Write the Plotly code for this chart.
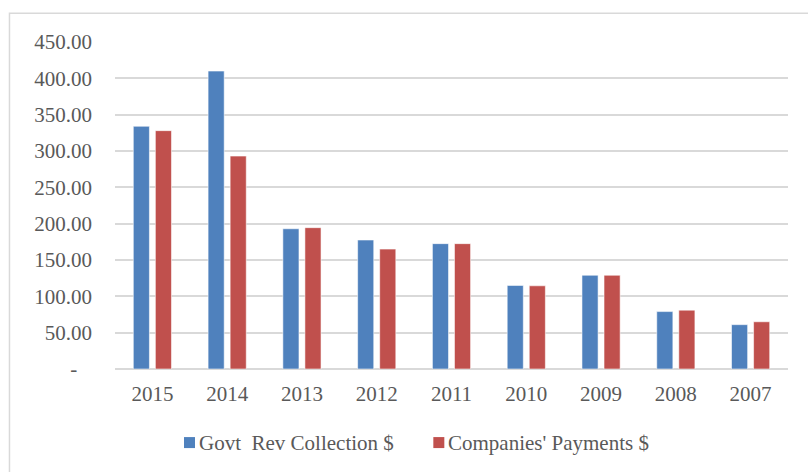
import plotly.graph_objects as go

# Fiscal years, most recent first
years = ["2015", "2014", "2013", "2012", "2011", "2010", "2009", "2008", "2007"]

# Reconciled amounts for each year
govt_revenue = [334.0, 410.0, 193.0, 177.5, 172.5, 115.0, 129.0, 79.0, 61.0]
company_payments = [328.0, 293.0, 194.5, 165.0, 172.5, 114.5, 129.0, 81.0, 65.0]

series_names = ["Govt\u00a0 Rev Collection $", "Companies' Payments $"]
series_colors = ["#4f81bd", "#c0504d"]

# Value-axis ticks (accounting-style: zero shown as a dash)
y_tickvals = [0, 50, 100, 150, 200, 250, 300, 350, 400, 450]
y_ticktext = ["-\u00a0\u00a0\u2009"] + [f"{v:.2f}" for v in y_tickvals[1:]]

FONT = "Liberation Serif"
TEXT_GRAY = "#595959"
GRID_GRAY = "#d9d9d9"

fig = go.Figure()
for name, vals, color in zip(series_names, [govt_revenue, company_payments], series_colors):
    fig.add_trace(go.Bar(
        x=years, y=vals, name=name,
        marker=dict(color=color, line=dict(color="rgba(255,255,255,0.55)", width=1)),
        showlegend=False,
    ))

fig.update_layout(
    width=808, height=472,
    margin=dict(l=115, r=20, t=42, b=103, pad=0),
    paper_bgcolor="white", plot_bgcolor="white",
    barmode="group", bargap=0.41, bargroupgap=0.27,
    font=dict(family=FONT, size=21, color=TEXT_GRAY),
)
fig.update_xaxes(
    type="category", showgrid=False, showline=False, ticks="",
    tickfont=dict(family=FONT, size=21, color=TEXT_GRAY),
    ticklabelstandoff=10,
)
fig.update_yaxes(
    range=[0, 450], tickvals=y_tickvals, ticktext=y_ticktext,
    showgrid=True, gridcolor=GRID_GRAY, gridwidth=1.8,
    zeroline=True, zerolinecolor=GRID_GRAY, zerolinewidth=1.8,
    showline=False, ticks="",
    tickfont=dict(family=FONT, size=21, color=TEXT_GRAY),
    ticklabelstandoff=22,
)

# Chart-area frame
fig.add_shape(type="rect", xref="paper", yref="paper",
              x0=-0.1568, y0=-0.45, x1=1.1, y1=1.0876,
              line=dict(color=GRID_GRAY, width=1.5), fillcolor="rgba(0,0,0,0)", layer="below")

# Legend row under the plot
legend_y = -0.225
legend_items = [(0.1025, series_names[0], series_colors[0]),
                (0.473, series_names[1], series_colors[1])]
sq_w = 11 / 673
sq_h = 11 / 327
for x0, name, color in legend_items:
    fig.add_shape(type="rect", xref="paper", yref="paper",
                  x0=x0, x1=x0 + sq_w, y0=legend_y - sq_h / 2, y1=legend_y + sq_h / 2,
                  line=dict(width=0), fillcolor=color)
    fig.add_annotation(xref="paper", yref="paper", x=x0 + sq_w + 2 / 673, y=legend_y,
                       text=name, showarrow=False, xanchor="left", yanchor="middle",
                       font=dict(family=FONT, size=21, color=TEXT_GRAY))

fig.write_html("out.html")
